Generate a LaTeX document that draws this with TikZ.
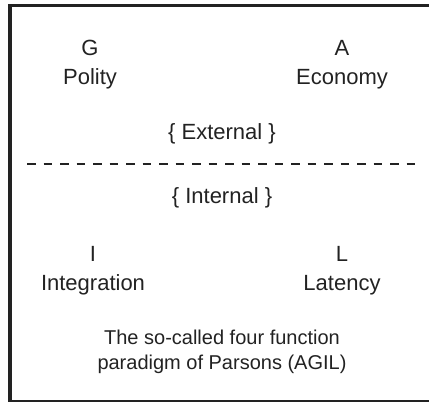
\documentclass[tikz,border=0pt]{standalone}
\usepackage{fontspec}
\setmainfont{Liberation Sans}
\usetikzlibrary{positioning}
\definecolor{ink}{HTML}{222222}

\begin{document}
\begin{tikzpicture}[
    x=1pt, y=1pt,
    every node/.style={font=\fontsize{22}{26}\selectfont, text=ink, inner sep=0pt},
    caption/.style={font=\fontsize{20}{25}\selectfont},
    frame/.style={draw=ink, line width=3.5pt},
    divider/.style={draw=ink, line width=2pt, dash pattern=on 8.5pt off 8pt},
  ]
  \useasboundingbox (0,0) rectangle (429,402);
  \clip (0,0) rectangle (429,402);

  % the frame, running off the right edge
  \draw[frame] (440,396.5) -- (10,396.5) -- (10,0.5) -- (440,0.5);

  % the four functions: letter, and its name below
  \foreach \name/\x/\y/\letter/\word in {g/90/346/G/Polity, a/342/346/A/Economy,
                                         i/93/140/I/Integration, l/342/140/L/Latency} {
    \node[anchor=base] (\name-letter) at (\x,\y) {\letter};
    \node[anchor=base] (\name-word) at (\x,\y-29) {\word};
  }

  % external above the divider, internal below it
  \node[anchor=base] (external) at (222,262) {\{ External \}};
  \coordinate (div-l) at (27,238);
  \coordinate (div-r) at (417,238);
  \draw[divider] (div-l) -- (div-r);
  \node[anchor=base] (internal) at (222,198) {\{ Internal \}};

  % caption
  \node[caption, anchor=base] (cap-a) at (222,57) {The so-called four function};
  \node[caption, anchor=base] (cap-b) at (222,32) {paradigm of Parsons (AGIL)};
\end{tikzpicture}
\end{document}
